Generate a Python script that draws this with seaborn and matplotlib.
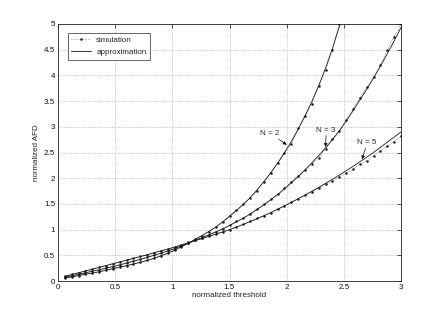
import matplotlib
matplotlib.use("Agg")
import matplotlib.pyplot as plt
import numpy as np
import pandas as pd
import seaborn as sns
from matplotlib.lines import Line2D

# 시뮬레이션 x (정규화 임계값)
x_sim = [0.06, 0.12, 0.18, 0.24, 0.30, 0.36, 0.42, 0.48, 0.54, 0.60,
         0.66, 0.72, 0.78, 0.84, 0.90, 0.96, 1.02, 1.08, 1.14, 1.20,
         1.26, 1.32, 1.38, 1.44, 1.50, 1.56, 1.62, 1.68, 1.74, 1.80,
         1.86, 1.92, 1.98, 2.04, 2.10, 2.16, 2.22, 2.28, 2.34, 2.40,
         2.46, 2.52, 2.58, 2.64, 2.70, 2.76, 2.82, 2.88, 2.94, 3.00]

sim_n2 = [0.055, 0.08, 0.105, 0.13, 0.155, 0.18, 0.21, 0.24, 0.27, 0.30,
          0.33, 0.36, 0.40, 0.44, 0.49, 0.54, 0.60, 0.67, 0.74, 0.81,
          0.88, 0.96, 1.05, 1.15, 1.26, 1.38, 1.49, 1.62, 1.75, 1.93,
          2.11, 2.30, 2.50, 2.66, 2.97, 3.21, 3.45, 3.80, 4.10, 4.50,
          5.00]
sim_n3 = [0.07, 0.10, 0.13, 0.16, 0.19, 0.22, 0.25, 0.28, 0.31, 0.35,
          0.38, 0.42, 0.46, 0.50, 0.54, 0.58, 0.63, 0.69, 0.74, 0.79,
          0.84, 0.89, 0.95, 1.01, 1.08, 1.16, 1.23, 1.31, 1.40, 1.49,
          1.59, 1.69, 1.81, 1.93, 2.05, 2.16, 2.27, 2.40, 2.56, 2.76,
          2.92, 3.13, 3.34, 3.57, 3.77, 3.96, 4.20, 4.49, 4.75, 5.00]
sim_n5 = [0.09, 0.13, 0.16, 0.20, 0.23, 0.27, 0.30, 0.34, 0.37, 0.41,
          0.44, 0.48, 0.51, 0.55, 0.59, 0.62, 0.66, 0.71, 0.75, 0.79,
          0.83, 0.87, 0.91, 0.95, 1.00, 1.05, 1.10, 1.16, 1.22, 1.27,
          1.33, 1.40, 1.46, 1.53, 1.60, 1.67, 1.73, 1.81, 1.88, 1.94,
          2.03, 2.10, 2.17, 2.27, 2.33, 2.44, 2.53, 2.63, 2.71, 2.82]

# 근사식 곡선
x_apx = x_sim
x_apx_n2 = x_sim[:41] + [2.48]
apx_n2 = [0.06, 0.08, 0.105, 0.13, 0.155, 0.18, 0.21, 0.24, 0.27, 0.30,
          0.33, 0.365, 0.40, 0.44, 0.49, 0.54, 0.60, 0.665, 0.735, 0.81,
          0.885, 0.965, 1.05, 1.15, 1.26, 1.37, 1.49, 1.62, 1.77, 1.93,
          2.10, 2.29, 2.49, 2.71, 2.95, 3.21, 3.49, 3.80, 4.14, 4.52,
          4.95, 5.10]
apx_n3 = [0.07, 0.10, 0.13, 0.16, 0.19, 0.22, 0.25, 0.28, 0.315, 0.35,
          0.385, 0.42, 0.46, 0.50, 0.54, 0.585, 0.63, 0.685, 0.74, 0.79,
          0.845, 0.90, 0.955, 1.015, 1.08, 1.15, 1.22, 1.30, 1.39, 1.48,
          1.58, 1.68, 1.79, 1.91, 2.03, 2.16, 2.30, 2.44, 2.59, 2.75,
          2.92, 3.11, 3.31, 3.52, 3.73, 3.95, 4.18, 4.42, 4.67, 4.93]
apx_n5 = [0.09, 0.125, 0.16, 0.195, 0.23, 0.265, 0.30, 0.335, 0.37, 0.405,
          0.44, 0.475, 0.51, 0.55, 0.585, 0.62, 0.66, 0.70, 0.74, 0.785,
          0.825, 0.87, 0.91, 0.955, 1.00, 1.05, 1.10, 1.155, 1.21, 1.27,
          1.33, 1.395, 1.46, 1.53, 1.60, 1.67, 1.745, 1.82, 1.90, 1.98,
          2.06, 2.145, 2.23, 2.32, 2.41, 2.50, 2.60, 2.70, 2.80, 2.90]

x_ticks = [0, 0.5, 1, 1.5, 2, 2.5, 3]
y_ticks = [0, 0.5, 1, 1.5, 2, 2.5, 3, 3.5, 4, 4.5, 5]
tick_labels_x = ["0", "0.5", "1", "1.5", "2", "2.5", "3"]
tick_labels_y = ["0", "0.5", "1", "1.5", "2", "2.5", "3", "3.5", "4", "4.5", "5"]

# 라벨, 텍스트 위치, 화살표 시작점, 화살표 끝점
curve_labels = ["N = 2", "N = 3", "N = 5"]
label_xy = [(1.85, 2.86), (2.345, 2.93), (2.70, 2.69)]
arrow_from = [(1.93, 2.76), (2.345, 2.83), (2.69, 2.59)]
arrow_to = [(2.0, 2.65), (2.34, 2.61), (2.66, 2.37)]

FS = 5.8
sns.set_style("white")
plt.rcParams["font.family"] = ["Liberation Sans", "DejaVu Sans"]

fig = plt.figure(figsize=(4.43, 3.18), dpi=100)
ax = fig.add_axes([58 / 443, 37 / 318, 343 / 443, 257 / 318])

sims = [(x_sim[:len(sim_n2)], sim_n2), (x_sim, sim_n3), (x_sim, sim_n5)]
apxs = [(x_apx_n2, apx_n2), (x_apx, apx_n3), (x_apx, apx_n5)]

for xs, ys in apxs:
    sns.lineplot(x=xs, y=ys, ax=ax, color="#1a1a1a", lw=0.6, sort=False)
for xs, ys in sims:
    sns.lineplot(x=xs, y=ys, ax=ax, color="#1a1a1a", lw=0.4, ls=(0, (1, 2)),
                 marker="o", markersize=1.8, markeredgewidth=0, sort=False)

ax.set_xlim(0, 3)
ax.set_ylim(0, 5)
ax.set_xticks(x_ticks)
ax.set_xticklabels(tick_labels_x)
ax.set_yticks(y_ticks)
ax.set_yticklabels(tick_labels_y)
ax.tick_params(direction="in", length=3, width=0.5, labelsize=FS,
               top=True, right=True, pad=2, colors="#111")
ax.grid(True, ls=":", lw=0.5, color="#9a9a9a")
for s in ax.spines.values():
    s.set_linewidth(0.6)
    s.set_color("#222")

ax.set_xlabel("normalized threshold", fontsize=FS, labelpad=1)
ax.set_ylabel("normalized AFD", fontsize=FS, labelpad=3)

arrow = dict(arrowstyle="-|>", lw=0.5, color="#111", mutation_scale=5,
             shrinkA=0, shrinkB=0)
for lab, pt, a0, a1 in zip(curve_labels, label_xy, arrow_from, arrow_to):
    ax.text(pt[0], pt[1], lab, fontsize=FS, ha="center", va="center")
    ax.annotate("", xy=a1, xytext=a0, arrowprops=arrow)

handles = [Line2D([0], [0], color="#1a1a1a", lw=0.4, ls=(0, (1, 2)),
                  marker="o", markersize=1.8, markeredgewidth=0),
           Line2D([0], [0], color="#1a1a1a", lw=0.6)]
leg = ax.legend(handles, ["simulation", "approximation"], loc="upper left",
                bbox_to_anchor=(0.028, 0.966), fontsize=FS, frameon=True,
                fancybox=False, edgecolor="#222", handlelength=2.4,
                borderpad=0.45, labelspacing=0.55, handletextpad=0.7,
                borderaxespad=0)
leg.get_frame().set_linewidth(0.6)

fig.savefig("out.png", dpi=100)
